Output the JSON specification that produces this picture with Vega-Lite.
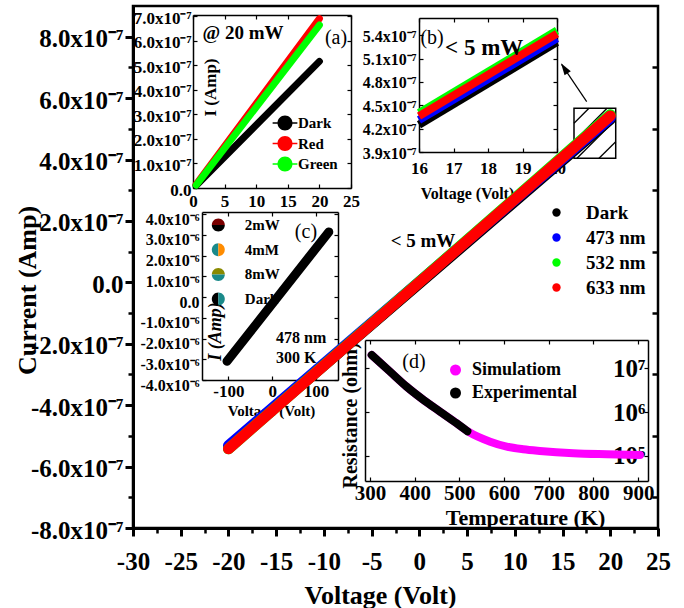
{
"$schema":"https://vega.github.io/schema/vega-lite/v6.json",
"width":525,"height":522,
"autosize":{"type":"none"},
"padding":{"left":133,"top":6,"right":26,"bottom":80},
"background":"white",
"datasets":{
"main":[{"V":-20,"I":-5.38e-7,"s":"Dark"},{"V":20,"I":5.31e-7,"s":"Dark"},
{"V":-20,"I":-5.32e-7,"s":"473 nm"},{"V":20,"I":5.36e-7,"s":"473 nm"},
{"V":-20,"I":-5.42e-7,"s":"532 nm"},{"V":20,"I":5.46e-7,"s":"532 nm"},
{"V":-20,"I":-5.42e-7,"s":"633 nm"},{"V":20,"I":5.42e-7,"s":"633 nm"}],
"ia":[{"V":0.5,"I":1.0e-8,"s":"Dark"},{"V":20,"I":5.16e-7,"s":"Dark"},
{"V":0.5,"I":1.5e-8,"s":"Red"},{"V":20,"I":6.9e-7,"s":"Red"},
{"V":0.5,"I":1.2e-8,"s":"Green"},{"V":20,"I":6.64e-7,"s":"Green"}],
"ib":[{"V":16,"I":4.25e-7,"s":"Dark"},{"V":20,"I":5.31e-7,"s":"Dark"},
{"V":16,"I":4.31e-7,"s":"473 nm"},{"V":20,"I":5.36e-7,"s":"473 nm"},
{"V":16,"I":4.40e-7,"s":"532 nm"},{"V":20,"I":5.46e-7,"s":"532 nm"},
{"V":16,"I":4.36e-7,"s":"633 nm"},{"V":20,"I":5.42e-7,"s":"633 nm"}],
"ic":[{"V":-103,"I":-3.1e-6,"s":"Dark"},{"V":129,"I":3.14e-6,"s":"Dark"}],
"id":[{"T":304,"R":1.99e7,"s":"Simulatiom"},{"T":345,"R":8.30e6,"s":"Simulatiom"},{"T":382,"R":3.78e6,"s":"Simulatiom"},{"T":420,"R":1.88e6,"s":"Simulatiom"},{"T":457,"R":1.02e6,"s":"Simulatiom"},{"T":494,"R":5.53e5,"s":"Simulatiom"},{"T":520,"R":3.57e5,"s":"Simulatiom"},{"T":569,"R":2.11e5,"s":"Simulatiom"},{"T":606,"R":1.63e5,"s":"Simulatiom"},{"T":643,"R":1.42e5,"s":"Simulatiom"},{"T":680,"R":1.30e5,"s":"Simulatiom"},{"T":755,"R":1.15e5,"s":"Simulatiom"},{"T":830,"R":1.09e5,"s":"Simulatiom"},{"T":904,"R":1.05e5,"s":"Simulatiom"},
{"T":304,"R":1.99e7,"s":"Experimental"},{"T":345,"R":8.30e6,"s":"Experimental"},{"T":382,"R":3.78e6,"s":"Experimental"},{"T":420,"R":1.88e6,"s":"Experimental"},{"T":457,"R":1.02e6,"s":"Experimental"},{"T":494,"R":5.53e5,"s":"Experimental"},{"T":518,"R":3.65e5,"s":"Experimental"}]
},
"resolve":{"scale":{"x":"independent","y":"independent","color":"independent","shape":"independent"}},
"layer":[
{"data":{"values":[{"x":16.2,"x2":20.57,"y":4.04e-7,"y2":5.67e-7}]},
 "mark":{"type":"rect","fill":"transparent","stroke":"black","strokeWidth":1.5},
 "encoding":{"x":{"field":"x","type":"quantitative","scale":{"domain":[-30,25],"nice":false,"zero":false},"axis":null},
  "x2":{"field":"x2"},
  "y":{"field":"y","type":"quantitative","scale":{"domain":[-8e-7,9e-7],"nice":false,"zero":false},"axis":null},
  "y2":{"field":"y2"}}},
{"data":{"values":[{"x":16.2,"y":5.18e-7,"x2":17.77,"y2":5.67e-7},{"x":16.2,"y":4.59e-7,"x2":19.66,"y2":5.67e-7},{"x":16.51,"y":4.04e-7,"x2":20.57,"y2":5.30e-7},{"x":18.82,"y":4.04e-7,"x2":20.57,"y2":4.58e-7}]},
 "mark":{"type":"rule","color":"black","strokeWidth":1.3},
 "encoding":{"x":{"field":"x","type":"quantitative","scale":{"domain":[-30,25],"nice":false,"zero":false},"axis":null},
  "x2":{"field":"x2"},
  "y":{"field":"y","type":"quantitative","scale":{"domain":[-8e-7,9e-7],"nice":false,"zero":false},"axis":null},
  "y2":{"field":"y2"}}},
{"data":{"values":[{"x":17.53,"y":5.885e-7,"x2":14.9,"y2":7.1e-7}]},
 "mark":{"type":"rule","color":"black","strokeWidth":1.2},
 "encoding":{"x":{"field":"x","type":"quantitative","scale":{"domain":[-30,25],"nice":false,"zero":false},"axis":null},
  "x2":{"field":"x2"},
  "y":{"field":"y","type":"quantitative","scale":{"domain":[-8e-7,9e-7],"nice":false,"zero":false},"axis":null},
  "y2":{"field":"y2"}}},
{"data":{"values":[{"x":14.84,"y":7.135e-7}]},
 "mark":{"type":"point","filled":true,"color":"black","opacity":1,"shape":"M0,0L0.5,1.6L-0.5,1.6Z","size":225,"angle":-33.8},
 "encoding":{"x":{"field":"x","type":"quantitative","scale":{"domain":[-30,25],"nice":false,"zero":false},"axis":null},
  "y":{"field":"y","type":"quantitative","scale":{"domain":[-8e-7,9e-7],"nice":false,"zero":false},"axis":null}}},
{"data":{"name":"main"},
 "mark":{"type":"line","strokeWidth":11,"strokeCap":"round"},
 "encoding":{
  "x":{"field":"V","type":"quantitative","scale":{"domain":[-30,25],"nice":false,"zero":false},
   "axis":{"orient":"bottom","values":[-30,-25,-20,-15,-10,-5,0,5,10,15,20,25],"labelExpr":"replace(datum.label,'−','-')","labelFontSize":25,"labelPadding":13,"tickSize":8,"tickWidth":3,"domainWidth":3,"title":"Voltage (Volt)","titleFontSize":26,"titleX":247,"titleY":67,"titleAlign":"center","titleBaseline":"middle"}},
  "y":{"field":"I","type":"quantitative","scale":{"domain":[-8e-7,9e-7],"nice":false,"zero":false},
   "axis":{"orient":"left","values":[-8e-7,-6e-7,-4e-7,-2e-7,0,2e-7,4e-7,6e-7,8e-7],"labelExpr":"datum.value == 0 ? '0.0' : replace(format(datum.value*1e7,'.1f'),'−','-') + 'x10⁻⁷'","labelFontSize":25,"labelPadding":2,"labelOffset":2,"tickSize":8,"tickWidth":3,"domainWidth":3,"title":"Current (Amp)","titleFontSize":26,"titleX":-106,"titleY":284,"titleAngle":270,"titleAlign":"center","titleBaseline":"middle"}},
  "color":{"field":"s","type":"nominal","scale":{"domain":["Dark","473 nm","532 nm","633 nm"],"range":["#000000","#0000ff","#00ff00","#ff0000"]},"legend":null}}},
{"data":{"name":"main"},
 "mark":{"type":"line","opacity":0},
 "encoding":{
  "x":{"field":"V","type":"quantitative","scale":{"domain":[-30,25],"nice":false,"zero":false},
   "axis":{"orient":"bottom","values":[-27.5,-22.5,-17.5,-12.5,-7.5,-2.5,2.5,7.5,12.5,17.5,22.5],"labels":false,"tickSize":5,"tickWidth":2.5,"domain":false,"title":null}},
  "y":{"field":"I","type":"quantitative","scale":{"domain":[-8e-7,9e-7],"nice":false,"zero":false},
   "axis":{"orient":"left","values":[-7e-7,-5e-7,-3e-7,-1e-7,1e-7,3e-7,5e-7,7e-7],"labels":false,"tickSize":5,"tickWidth":2.5,"domain":false,"title":null}}}},
{"data":{"name":"main"},
 "mark":{"type":"line","opacity":0},
 "encoding":{
  "x":{"field":"V","type":"quantitative","scale":{"domain":[-30,25],"nice":false,"zero":false},"axis":null},
  "y":{"field":"I","type":"quantitative","scale":{"domain":[-8e-7,9e-7],"nice":false,"zero":false},
   "axis":{"orient":"right","values":[-7e-7,-5e-7,-3e-7,-1e-7,1e-7,3e-7,5e-7,7e-7],"labels":false,"tickSize":-6,"tickWidth":2.5,"domain":false,"title":null}}}},
{"data":{"name":"main"},
 "transform":[{"filter":"false"}],
 "mark":{"type":"point","filled":true,"opacity":1},
 "encoding":{
  "color":{"field":"s","type":"nominal","scale":{"domain":["Dark","473 nm","532 nm","633 nm"],"range":["#000000","#0000ff","#00ff00","#ff0000"]},
   "legend":{"orient":"none","legendX":414,"legendY":197,"title":null,"labelFontSize":19,"symbolType":"circle","symbolSize":70,"symbolStrokeWidth":0,"rowPadding":5,"labelOffset":20}}}},
{"data":{"name":"ia"},
 "mark":{"type":"line","strokeWidth":7,"strokeCap":"round"},
 "encoding":{
  "x":{"field":"V","type":"quantitative","scale":{"domain":[0,25],"range":[60,218],"nice":false,"zero":false},
   "axis":{"orient":"bottom","offset":-340,"values":[0,5,10,15,20,25],"labelFontSize":17,"labelPadding":9,"tickSize":-4,"tickWidth":1.2,"domainWidth":1.5,"title":null}},
  "y":{"field":"I","type":"quantitative","scale":{"domain":[0,7.05e-7],"range":[182,9],"nice":false,"zero":false},
   "axis":{"orient":"left","offset":-60,"values":[0,1e-7,2e-7,3e-7,4e-7,5e-7,6e-7,7e-7],"labelExpr":"datum.value == 0 ? '0.0' : format(datum.value*1e7,'.1f') + 'x10⁻⁷'","labelFontSize":17,"labelPadding":6,"labelOffset":2,"tickSize":-4,"tickWidth":1.2,"domainWidth":1.5,"title":"I (Amp)","titleFontSize":17,"titleX":17,"titleY":81,"titleAngle":270,"titleAlign":"center","titleBaseline":"middle"}},
  "color":{"field":"s","type":"nominal","scale":{"domain":["Dark","Red","Green"],"range":["#000000","#ff0000","#00ff00"]},"legend":null}}},
{"data":{"name":"ia"},
 "mark":{"type":"line","opacity":0},
 "encoding":{
  "x":{"field":"V","type":"quantitative","scale":{"domain":[0,25],"range":[60,218],"nice":false,"zero":false},
   "axis":{"orient":"top","offset":-9,"values":[0,5,10,15,20,25],"labels":false,"tickSize":-4,"tickWidth":1.2,"domainWidth":1.5,"title":null}},
  "y":{"field":"I","type":"quantitative","scale":{"domain":[0,7.05e-7],"range":[182,9],"nice":false,"zero":false},
   "axis":{"orient":"right","offset":-307,"values":[0,1e-7,2e-7,3e-7,4e-7,5e-7,6e-7,7e-7],"labels":false,"tickSize":-4,"tickWidth":1.2,"domainWidth":1.5,"title":null}}}},
{"data":{"name":"ia"},
 "transform":[{"filter":"false"}],
 "mark":{"type":"point","filled":true,"opacity":1},
 "encoding":{
  "color":{"field":"s","type":"nominal","scale":{"domain":["Dark","Red","Green"],"range":["#000000","#ff0000","#00ff00"]},
   "legend":{"orient":"none","legendX":144.5,"legendY":109.5,"title":null,"labelFontSize":15,"symbolType":"M-1.65,-0.09H1.65V0.09H-1.65Z M1,0A1,1 0 1,1 -1,0A1,1 0 1,1 1,0Z","symbolSize":225,"symbolStrokeWidth":0,"rowPadding":4.5,"labelOffset":5.5}}}},
{"data":{"name":"ib"},
 "mark":{"type":"line","strokeWidth":8,"strokeCap":"butt"},
 "encoding":{
  "x":{"field":"V","type":"quantitative","scale":{"domain":[16,20],"range":[286,424],"nice":false,"zero":false},
   "axis":{"orient":"bottom","offset":-376,"values":[16,17,18,19,20],"labelFontSize":17,"labelPadding":12,"tickSize":-4,"tickWidth":1.2,"domainWidth":1.5,"title":"Voltage (Volt)","titleFontSize":16,"titleX":334,"titleY":41,"titleAlign":"center","titleBaseline":"middle"}},
  "y":{"field":"I","type":"quantitative","scale":{"domain":[3.9e-7,5.62e-7],"range":[146,12],"nice":false,"zero":false},
   "axis":{"orient":"left","offset":-286,"values":[3.9e-7,4.2e-7,4.5e-7,4.8e-7,5.1e-7,5.4e-7],"labelExpr":"format(datum.value*1e7,'.1f') + 'x10⁻⁷'","labelFontSize":16,"labelPadding":7,"labelOffset":1,"tickSize":-4,"tickWidth":1.2,"domainWidth":1.5,"title":null}},
  "color":{"field":"s","type":"nominal","scale":{"domain":["Dark","473 nm","532 nm","633 nm"],"range":["#000000","#0000ff","#00ff00","#ff0000"]},"legend":null}}},
{"data":{"name":"ib"},
 "mark":{"type":"line","opacity":0},
 "encoding":{
  "x":{"field":"V","type":"quantitative","scale":{"domain":[16,20],"range":[286,424],"nice":false,"zero":false},
   "axis":{"orient":"top","offset":-12,"values":[16,17,18,19,20],"labels":false,"tickSize":-4,"tickWidth":1.2,"domainWidth":1.5,"title":null}},
  "y":{"field":"I","type":"quantitative","scale":{"domain":[3.9e-7,5.62e-7],"range":[146,12],"nice":false,"zero":false},
   "axis":{"orient":"right","offset":-101,"values":[3.9e-7,4.2e-7,4.5e-7,4.8e-7,5.1e-7,5.4e-7],"labels":false,"tickSize":-4,"tickWidth":1.2,"domainWidth":1.5,"title":null}}}},
{"data":{"name":"ic"},
 "mark":{"type":"line","strokeWidth":9,"strokeCap":"round"},
 "encoding":{
  "x":{"field":"V","type":"quantitative","scale":{"domain":[-160,150],"range":[69,205],"nice":false,"zero":false},
   "axis":{"orient":"bottom","offset":-148,"values":[-100,0,100],"labelExpr":"replace(datum.label,'−','-')","labelFontSize":17,"labelPadding":7,"tickSize":-4,"tickWidth":1.2,"domainWidth":1.5,"title":"Voltage (Volt)","titleFontSize":15,"titleX":138,"titleY":30,"titleAlign":"center","titleBaseline":"middle"}},
  "y":{"field":"I","type":"quantitative","scale":{"domain":[-4e-6,4.1e-6],"range":[374,206],"nice":false,"zero":false},
   "axis":{"orient":"left","offset":-69,"values":[-4e-6,-3e-6,-2e-6,-1e-6,0,1e-6,2e-6,3e-6,4e-6],"labelExpr":"datum.value == 0 ? '0.0' : replace(format(datum.value*1e6,'.1f'),'−','-') + 'x10⁻⁶'","labelFontSize":16,"labelPadding":7,"labelOffset":5,"tickSize":-4,"tickWidth":1.2,"domainWidth":1.5,"title":"I (Amp)","titleFontSize":18,"titleFontStyle":"italic","titleX":13,"titleY":325,"titleAngle":270,"titleAlign":"center","titleBaseline":"middle"}},
  "color":{"field":"s","type":"nominal","scale":{"domain":["Dark"],"range":["#000000"]},"legend":null}}},
{"data":{"name":"ic"},
 "mark":{"type":"line","opacity":0},
 "encoding":{
  "x":{"field":"V","type":"quantitative","scale":{"domain":[-160,150],"range":[69,205],"nice":false,"zero":false},
   "axis":{"orient":"top","offset":-206,"values":[-100,0,100],"labels":false,"tickSize":-4,"tickWidth":1.2,"domainWidth":1.5,"title":null}},
  "y":{"field":"I","type":"quantitative","scale":{"domain":[-4e-6,4.1e-6],"range":[374,206],"nice":false,"zero":false},
   "axis":{"orient":"right","offset":-320,"values":[-4e-6,-3e-6,-2e-6,-1e-6,0,1e-6,2e-6,3e-6,4e-6],"labels":false,"tickSize":-4,"tickWidth":1.2,"domainWidth":1.5,"title":null}}}},
{"data":{"name":"ic"},
 "transform":[{"filter":"false"}],
 "mark":{"type":"point","filled":true,"opacity":1},
 "encoding":{
  "color":{"field":"s","type":"nominal","scale":{"domain":["2mW","4mM","8mW","Dark"],"range":["#7a0000","#1a8a8a","#8a8a00","#000000"]},
   "legend":{"orient":"none","legendX":77.8,"legendY":211.5,"title":null,"labelFontSize":15,"symbolSize":169,"symbolStrokeWidth":0,"rowPadding":8.7,"labelOffset":19}},
  "shape":{"field":"s","type":"nominal","scale":{"domain":["2mW","4mM","8mW","Dark"],"range":["M-1,0A1,1 0 0,1 1,0Z","M0,-1A1,1 0 0,0 0,1Z","M-1,0A1,1 0 0,1 1,0Z","M0,-1A1,1 0 0,0 0,1Z"]},
   "legend":{"orient":"none","legendX":77.8,"legendY":211.5,"title":null,"labelFontSize":15,"symbolSize":169,"symbolStrokeWidth":0,"rowPadding":8.7,"labelOffset":19}}}},
{"data":{"name":"ic"},
 "transform":[{"filter":"false"}],
 "mark":{"type":"point","filled":true,"opacity":1},
 "encoding":{
  "color":{"field":"s","type":"nominal","scale":{"domain":["2mW","4mM","8mW","Dark"],"range":["#000000","#ff8c00","#1a8a8a","#1a8a8a"]},
   "legend":{"orient":"none","legendX":77.8,"legendY":211.5,"title":null,"labelFontSize":15,"labelOpacity":0,"symbolSize":169,"symbolStrokeWidth":0,"rowPadding":8.7,"labelOffset":19}},
  "shape":{"field":"s","type":"nominal","scale":{"domain":["2mW","4mM","8mW","Dark"],"range":["M-1,0A1,1 0 0,0 1,0Z","M0,-1A1,1 0 0,1 0,1Z","M-1,0A1,1 0 0,0 1,0Z","M0,-1A1,1 0 0,1 0,1Z"]},
   "legend":{"orient":"none","legendX":77.8,"legendY":211.5,"title":null,"labelFontSize":15,"labelOpacity":0,"symbolSize":169,"symbolStrokeWidth":0,"rowPadding":8.7,"labelOffset":19}}}},
{"data":{"name":"id"},
 "mark":{"type":"line","strokeWidth":8,"strokeCap":"round","interpolate":"monotone"},
 "encoding":{
  "x":{"field":"T","type":"quantitative","scale":{"domain":[289,922],"range":[232,515],"nice":false,"zero":false},
   "axis":{"orient":"bottom","offset":-47,"values":[300,400,500,600,700,800,900],"labelFontSize":21,"labelPadding":5,"tickSize":-4,"tickWidth":1.2,"domainWidth":1.5,"title":"Temperature (K)","titleFontSize":22,"titleX":392,"titleY":36,"titleAlign":"center","titleBaseline":"middle"}},
  "y":{"field":"R","type":"quantitative","scale":{"type":"log","domain":[26900,43650000],"range":[475,334],"nice":false},
   "axis":{"orient":"left","offset":-232,"values":[1e5,1e6,1e7],"labels":false,"tickSize":-4,"tickWidth":1.2,"domainWidth":1.5,"title":"Resistance (ohm)","titleFontSize":20,"titleX":-15,"titleY":409,"titleAngle":270,"titleAlign":"center","titleBaseline":"middle"}},
  "color":{"field":"s","type":"nominal","scale":{"domain":["Simulatiom","Experimental"],"range":["#ff00ff","#000000"]},"legend":null}}},
{"data":{"name":"id"},
 "mark":{"type":"line","opacity":0},
 "encoding":{
  "x":{"field":"T","type":"quantitative","scale":{"domain":[289,922],"range":[232,515],"nice":false,"zero":false},
   "axis":{"orient":"top","offset":-334,"values":[300,400,500,600,700,800,900],"labels":false,"tickSize":-4,"tickWidth":1.2,"domainWidth":1.5,"title":null}},
  "y":{"field":"R","type":"quantitative","scale":{"type":"log","domain":[26900,43650000],"range":[475,334],"nice":false},
   "axis":{"orient":"right","offset":-10,"values":[1e5,1e6,1e7],"labelExpr":"'10' + (datum.value >= 5e6 ? '⁷' : datum.value >= 5e5 ? '⁶' : '⁵')","labelFontSize":25,"labelAlign":"right","labelBaseline":"middle","labelPadding":1,"tickSize":-4,"tickWidth":1.2,"domainWidth":1.5,"title":null}}}},
{"data":{"name":"id"},
 "transform":[{"filter":"false"}],
 "mark":{"type":"point","filled":true,"opacity":1},
 "encoding":{
  "color":{"field":"s","type":"nominal","scale":{"domain":["Simulatiom","Experimental"],"range":["#ff00ff","#000000"]},
   "legend":{"orient":"none","legendX":313.5,"legendY":355,"title":null,"labelFontSize":18,"symbolType":"circle","symbolSize":121,"symbolStrokeWidth":0,"rowPadding":5,"labelOffset":7.5}}}},
{"data":{"values":[{"x":0.38,"y":1.35e-7,"t":"< 5 mW"},{"x":-18.48,"y":8.12e-7,"t":"@ 20 mW"}]},
 "mark":{"type":"text","font":"Liberation Serif","fontWeight":"bold","fontSize":19,"align":"center","baseline":"middle","color":"black"},
 "encoding":{"x":{"field":"x","type":"quantitative","scale":{"domain":[-30,25],"nice":false,"zero":false},"axis":null},
  "y":{"field":"y","type":"quantitative","scale":{"domain":[-8e-7,9e-7],"nice":false,"zero":false},"axis":null},
  "text":{"field":"t"}}},
{"data":{"values":[{"x":-15.02,"y":-1.81e-7,"t":"478 nm"},{"x":-15.02,"y":-2.46e-7,"t":"300 K"}]},
 "mark":{"type":"text","font":"Liberation Serif","fontWeight":"bold","fontSize":16,"align":"left","baseline":"middle","color":"black"},
 "encoding":{"x":{"field":"x","type":"quantitative","scale":{"domain":[-30,25],"nice":false,"zero":false},"axis":null},
  "y":{"field":"y","type":"quantitative","scale":{"domain":[-8e-7,9e-7],"nice":false,"zero":false},"axis":null},
  "text":{"field":"t"}}},
{"data":{"values":[{"x":2.69,"y":7.63e-7,"t":"< 5 mW"}]},
 "mark":{"type":"text","font":"Liberation Serif","fontWeight":"bold","fontSize":23,"align":"left","baseline":"middle","color":"black"},
 "encoding":{"x":{"field":"x","type":"quantitative","scale":{"domain":[-30,25],"nice":false,"zero":false},"axis":null},
  "y":{"field":"y","type":"quantitative","scale":{"domain":[-8e-7,9e-7],"nice":false,"zero":false},"axis":null},
  "text":{"field":"t"}}},
{"data":{"values":[{"x":-8.73,"y":7.96e-7,"t":"(a)"},{"x":1.33,"y":7.96e-7,"t":"(b)"},{"x":-11.88,"y":1.64e-7,"t":"(c)"},{"x":-0.56,"y":-2.59e-7,"t":"(d)"}]},
 "mark":{"type":"text","font":"Liberation Serif","fontWeight":"normal","fontSize":20,"align":"center","baseline":"middle","color":"black"},
 "encoding":{"x":{"field":"x","type":"quantitative","scale":{"domain":[-30,25],"nice":false,"zero":false},"axis":null},
  "y":{"field":"y","type":"quantitative","scale":{"domain":[-8e-7,9e-7],"nice":false,"zero":false},"axis":null},
  "text":{"field":"t"}}}
],
"config":{
 "view":{"stroke":"black","strokeWidth":2.5},
 "font":"Liberation Serif",
 "axis":{"grid":false,"zindex":1,"labelFont":"Liberation Serif","labelFontWeight":"bold","labelColor":"black","titleFont":"Liberation Serif","titleFontWeight":"bold","titleColor":"black","domainColor":"black","tickColor":"black","labelOverlap":false,"labelFlush":false},
 "legend":{"labelFont":"Liberation Serif","labelFontWeight":"bold","labelColor":"black","labelLimit":0,"padding":0}
}
}
